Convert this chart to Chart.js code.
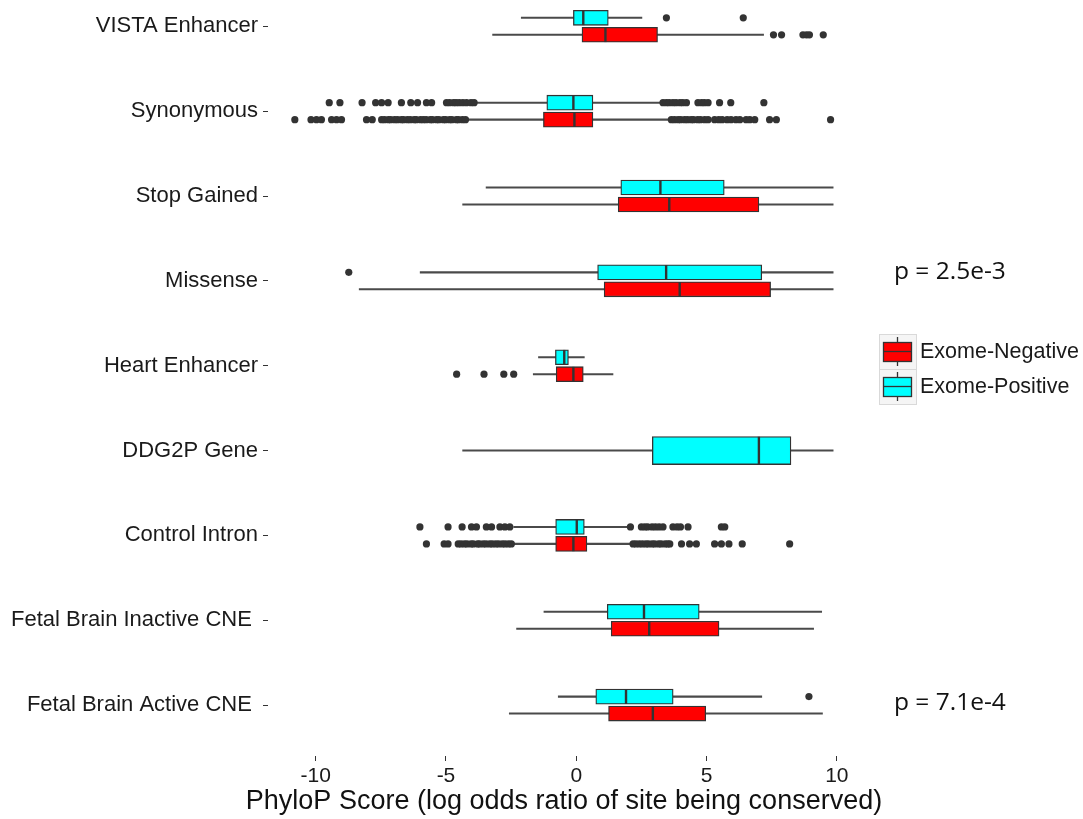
<!DOCTYPE html>
<html>
<head>
<meta charset="utf-8">
<script src="https://cdn.jsdelivr.net/npm/chart.js@4.4.1/dist/chart.umd.min.js"></script>
<style>
  html, body { margin: 0; padding: 0; background: #fff; }
  #wrap { width: 1083px; height: 819px; }
</style>
</head>
<body>
<div id="wrap"><canvas id="bchart"></canvas></div>
<script>
const categories = ['VISTA Enhancer', 'Synonymous', 'Stop Gained', 'Missense', 'Heart Enhancer',
  'DDG2P Gene', 'Control Intron', 'Fetal Brain Inactive CNE ', 'Fetal Brain Active CNE '];
const xTicks = [-10, -5, 0, 5, 10];
const xTitle = 'PhyloP Score (log odds ratio of site being conserved)';

// Exome-Negative (red): lower whisker, Q1, median, Q3, upper whisker
const negLow = [-3.21, -4.18, -4.36, -8.33, -1.65, null, -2.40, -2.29, -2.57];
const negQ1  = [ 0.22, -1.26,  1.61,  1.07, -0.77, null, -0.79,  1.34,  1.24];
const negMed = [ 1.12, -0.07,  3.57,  3.97, -0.11, null, -0.11,  2.80,  2.94];
const negQ3  = [ 3.12,  0.64,  7.01,  7.46,  0.27, null,  0.41,  5.48,  4.97];
const negHigh = [7.19,  3.59,  9.86,  9.86,  1.41, null,  2.05,  9.11,  9.45];

// Exome-Positive (cyan)
const posLow = [-2.11, -3.84, -3.46, -5.99, -1.45, -4.36, -2.40, -1.24, -0.69];
const posQ1  = [-0.11, -1.13,  1.71,  0.82, -0.80,  2.92, -0.79,  1.19,  0.75];
const posMed = [ 0.27, -0.11,  3.23,  3.45, -0.46,  7.01,  0.02,  2.60,  1.91];
const posQ3  = [ 1.23,  0.64,  5.68,  7.12, -0.30,  8.24,  0.31,  4.72,  3.72];
const posHigh = [2.52,  3.26,  9.86,  9.86,  0.31,  9.86,  1.98,  9.42,  7.12];

const negOutliers = [
  [7.57, 7.88, 8.70, 8.84, 8.95, 9.48],
  [-10.80, -10.18, -9.97, -9.78, -9.39, -9.20, -9.01, -8.05, -7.83, -7.47, -7.36, -7.21, -7.12, -6.97,
   -6.86, -6.71, -6.63, -6.48, -6.37, -6.22, -6.14, -5.98, -5.87, -5.76, -5.60, -5.52, -5.36, -5.27,
   -5.10, -5.01, -4.86, -4.77, -4.60, -4.52, -4.37, -4.25,
   3.65, 3.77, 3.91, 4.01, 4.16, 4.27, 4.41, 4.50, 4.66, 4.77, 4.93, 5.06, 5.31, 5.47, 5.60,
   5.79, 5.94, 6.13, 6.28, 6.52, 6.66, 6.85, 7.42, 7.68, 9.76],
  [],
  [],
  [-4.59, -3.54, -2.78, -2.40],
  [],
  [-5.75, -5.07, -4.92, -4.53, -4.42, -4.29, -4.19, -4.04, -3.95, -3.79, -3.71, -3.57, -3.46, -3.32,
   -3.22, -3.09, -2.98, -2.84, -2.73, -2.60, -2.49,
   2.18, 2.29, 2.42, 2.54, 2.67, 2.77, 2.91, 3.01, 3.16, 3.26, 3.41, 3.51, 3.59, 4.04, 4.35, 4.61,
   5.31, 5.57, 5.86, 6.37, 8.19],
  [],
  []
];
const posOutliers = [
  [3.46, 6.41],
  [-9.48, -9.07, -8.22, -7.70, -7.47, -7.22, -6.71, -6.35, -6.09, -5.75, -5.55, -4.98, -4.86, -4.71,
   -4.61, -4.49, -4.35, -4.21, -4.04, -3.92,
   3.33, 3.46, 3.57, 3.71, 3.83, 3.98, 4.09, 4.23, 4.67, 4.81, 4.92, 5.06, 5.50, 5.93, 7.20],
  [],
  [-8.73],
  [],
  [],
  [-6.00, -4.92, -4.38, -4.02, -3.83, -3.45, -3.25, -2.93, -2.74, -2.55,
   2.08, 2.50, 2.63, 2.74, 2.91, 3.04, 3.18, 3.33, 3.71, 3.87, 4.00, 4.29, 5.57, 5.70],
  [],
  [8.93]
];

const pNotes = [
  { text: 'p = 2.5e-3', at: 2.9 },
  { text: 'p = 7.1e-4', at: 7.98 }
];

const RED = '#ff0000';
const CYAN = '#00ffff';
const EDGE = '#333333';
const OFF = 0.1;

const paired = (i) => negMed[i] !== null && posMed[i] !== null;
const rowOf = (i, side) => (paired(i) ? i + side * OFF : i);

const series = [
  { name: 'Exome-Negative', color: RED, side: 1, lo: negLow, q1: negQ1, med: negMed, q3: negQ3, hi: negHigh, out: negOutliers },
  { name: 'Exome-Positive', color: CYAN, side: -1, lo: posLow, q1: posQ1, med: posMed, q3: posQ3, hi: posHigh, out: posOutliers }
];

const datasets = [];
series.forEach((s) => {
  const idx = categories.map((c, i) => i).filter((i) => s.med[i] !== null);
  datasets.push({
    type: 'bar', indexAxis: 'y', grouped: false, order: 5,
    data: idx.map((i) => ({ x: [s.lo[i], s.hi[i]], y: rowOf(i, s.side) })),
    backgroundColor: '#4a4a4a', barThickness: 1.4, borderWidth: 0
  });
  [true, false].forEach((pair) => {
    const sub = idx.filter((i) => paired(i) === pair);
    if (!sub.length) return;
    datasets.push({
      type: 'bar', indexAxis: 'y', grouped: false, order: 4,
      data: sub.map((i) => ({ x: [s.q1[i], s.q3[i]], y: rowOf(i, s.side) })),
      backgroundColor: s.color, borderColor: EDGE, borderWidth: 1.3, borderSkipped: false,
      barThickness: pair ? 15 : 28
    });
  });
  datasets.push({
    type: 'scatter', order: 2,
    data: idx.map((i) => ({ x: s.med[i], y: rowOf(i, s.side) })),
    pointStyle: 'line', rotation: 90, borderColor: EDGE, borderWidth: 2.4,
    pointRadius: idx.map((i) => (paired(i) ? 7.3 : 13.8))
  });
  const pts = [];
  s.out.forEach((arr, i) => arr.forEach((v) => pts.push({ x: v, y: rowOf(i, s.side) })));
  datasets.push({
    type: 'scatter', order: 1, data: pts,
    pointRadius: 3.6, backgroundColor: '#333333', borderWidth: 0
  });
});

const annotate = {
  id: 'annotate',
  afterDraw(chart) {
    const { ctx, chartArea } = chart;
    const y = chart.scales.y;
    ctx.save();
    ctx.textBaseline = 'middle';

    // x axis title (drawn here so it is not squeezed to the plot width)
    ctx.fillStyle = '#111111';
    ctx.textAlign = 'center';
    ctx.font = '27px "Liberation Sans"';
    ctx.fillText(xTitle, (chartArea.left + chartArea.right) / 2, 802);

    ctx.textAlign = 'left';
    ctx.font = '24.5px "Open Sans"';
    pNotes.forEach((n) => ctx.fillText(n.text, 894, y.getPixelForValue(n.at)));

    // legend with small boxplot keys
    const kx = 879, kw = 37, kh = 35, ky = 334;
    series.forEach((s, k) => {
      const top = ky + k * kh;
      ctx.fillStyle = '#f5f5f5';
      ctx.fillRect(kx, top, kw, kh);
      ctx.strokeStyle = '#d9d9d9';
      ctx.lineWidth = 1;
      ctx.strokeRect(kx + 0.5, top + 0.5, kw, kh);
      ctx.strokeStyle = EDGE;
      ctx.lineWidth = 1.3;
      ctx.beginPath();
      ctx.moveTo(kx + kw / 2, top + 3);
      ctx.lineTo(kx + kw / 2, top + kh - 3);
      ctx.stroke();
      ctx.fillStyle = s.color;
      ctx.fillRect(kx + 4.5, top + 8.5, kw - 9, kh - 16);
      ctx.strokeRect(kx + 4.5, top + 8.5, kw - 9, kh - 16);
      ctx.beginPath();
      ctx.moveTo(kx + 4.5, top + kh / 2);
      ctx.lineTo(kx + kw - 4.5, top + kh / 2);
      ctx.stroke();
      ctx.fillStyle = '#1a1a1a';
      ctx.font = '21.5px "Liberation Sans"';
      ctx.fillText(s.name, kx + kw + 4, top + kh / 2 + 1);
    });
    ctx.restore();
  }
};

const ctx = document.getElementById('bchart');
new Chart(ctx, {
  type: 'scatter',
  data: { datasets },
  plugins: [annotate],
  options: {
    responsive: true,
    maintainAspectRatio: false,
    animation: false,
    layout: { autoPadding: false, padding: { left: 0, right: 223, top: 0, bottom: 0 } },
    plugins: { legend: { display: false }, tooltip: { enabled: false } },
    scales: {
      x: {
        type: 'linear', min: -11.83, max: 10.89, offset: false,
        afterBuildTicks: (axis) => { axis.ticks = xTicks.map((v) => ({ value: v })); },
        afterFit: (axis) => { axis.height = 63; axis.paddingLeft = 0; axis.paddingRight = 0; },
        border: { display: false },
        grid: { drawOnChartArea: false, drawTicks: true, tickLength: 5, color: EDGE, offset: false },
        ticks: { color: '#1a1a1a', font: { family: 'Liberation Sans', size: 21 }, padding: 3, maxRotation: 0 }
      },
      y: {
        type: 'linear', reverse: true, min: -0.31, max: 8.6, offset: false,
        afterBuildTicks: (axis) => { axis.ticks = categories.map((c, i) => ({ value: i })); },
        afterFit: (axis) => { axis.width = 268; axis.paddingTop = 0; axis.paddingBottom = 0; },
        border: { display: false },
        grid: { drawOnChartArea: false, drawTicks: true, tickLength: 5, color: EDGE, offset: false },
        ticks: { color: '#1a1a1a', font: { family: 'Liberation Sans', size: 22 }, padding: 5, autoSkip: false,
          callback: (v) => categories[v] }
      }
    }
  }
});
</script>
</body>
</html>
